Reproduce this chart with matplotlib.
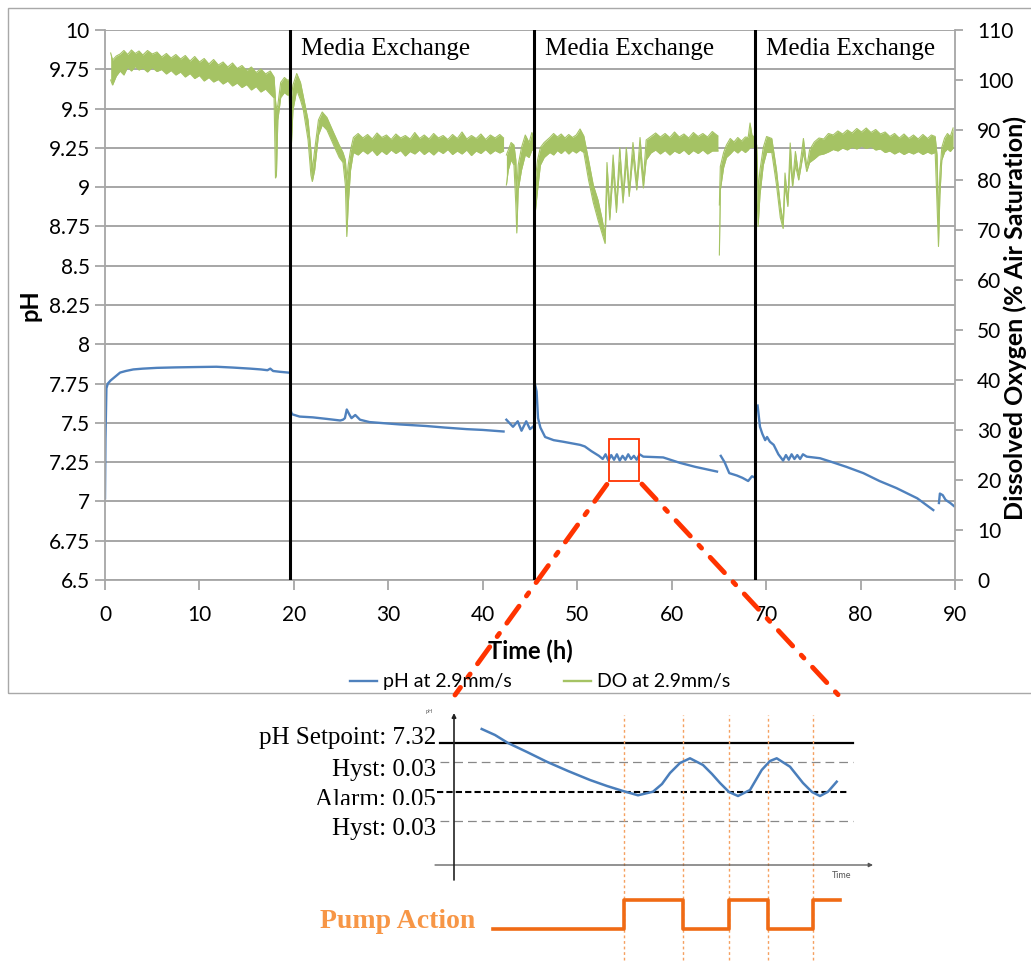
import matplotlib
matplotlib.use("Agg")
import matplotlib.pyplot as plt
from matplotlib.lines import Line2D
from matplotlib.patches import Rectangle, ConnectionPatch
from matplotlib.ticker import FuncFormatter, MultipleLocator

plt.rcParams['font.family'] = ['Lato', 'DejaVu Sans']

# ---- pH trace (left axis), one stretch per logged run ----
ph1_t = [0.0, 0.05, 0.15, 0.3, 0.6, 1.0, 1.6, 2.2, 3.0, 4.0, 5.5, 7.5, 9.5, 11.8,
         13.5, 15.4, 16.5, 17.2, 17.5, 17.8, 18.5, 19.4]
ph1_v = [7.02, 7.40, 7.72, 7.75, 7.77, 7.79, 7.82, 7.83, 7.84, 7.845, 7.85, 7.853,
         7.855, 7.857, 7.852, 7.845, 7.84, 7.835, 7.845, 7.83, 7.825, 7.82]

ph2_t = [19.7, 19.8, 20.6, 22, 23.5, 24.9, 25.2, 25.4, 25.6, 25.9, 26.1, 26.5, 27.0,
         28, 31.2, 34, 36, 38.3, 40, 42.2]
ph2_v = [7.57, 7.555, 7.54, 7.535, 7.525, 7.515, 7.52, 7.53, 7.585, 7.55, 7.53, 7.55,
         7.52, 7.505, 7.49, 7.48, 7.47, 7.46, 7.455, 7.445]

ph3_t = [42.5, 43.2, 43.7, 44.1, 44.6, 45.0, 45.3]
ph3_v = [7.52, 7.475, 7.51, 7.45, 7.51, 7.46, 7.475]

ph4_t = [45.55, 45.7, 45.85, 46.1, 46.6, 47.5, 48.5, 50.3, 50.8, 51.5, 52.3, 52.7,
         53.0, 53.3, 53.6, 53.9, 54.2, 54.5, 54.8, 55.1, 55.4, 55.7, 56.0, 56.3, 56.6,
         57.0, 59.1, 60.9, 62.5, 64.8]
ph4_v = [7.74, 7.70, 7.53, 7.47, 7.41, 7.39, 7.38, 7.36, 7.35, 7.32, 7.29, 7.27,
         7.30, 7.26, 7.295, 7.265, 7.30, 7.26, 7.29, 7.265, 7.30, 7.27, 7.29, 7.265,
         7.30, 7.285, 7.28, 7.245, 7.22, 7.19]

ph5_t = [65.2, 65.6, 66.1, 66.9, 67.5, 68.1, 68.5, 68.7]
ph5_v = [7.29, 7.25, 7.18, 7.165, 7.15, 7.13, 7.16, 7.155]

ph6_t = [69.1, 69.35, 69.6, 69.9, 70.1, 70.4, 70.8, 71.3, 71.8, 72.1, 72.4, 72.7,
         73.0, 73.3, 73.6, 73.9, 74.3, 75.7, 77, 78.5, 80.3, 82, 83.8, 86, 87.7]
ph6_v = [7.61, 7.475, 7.43, 7.39, 7.41, 7.38, 7.36, 7.30, 7.26, 7.295, 7.265, 7.30,
         7.27, 7.295, 7.27, 7.30, 7.285, 7.275, 7.25, 7.22, 7.18, 7.13, 7.085, 7.02,
         6.945]

ph7_t = [88.3, 88.4, 88.7, 89.0, 89.5, 89.9]
ph7_v = [6.99, 7.05, 7.04, 7.01, 6.99, 6.97]

# ---- dissolved oxygen (right axis): upper / lower edge of the noisy band ----
do1_t = [0.6, 0.8, 1.2, 1.6, 2.0, 2.4, 2.8, 3.2, 3.6, 4.0, 4.5, 5.0, 5.5, 6.0, 6.5,
         7.0, 7.5, 8.0, 8.5, 9.0, 9.5, 10.0, 10.5, 11.0, 11.5, 12.0, 12.5, 13.0,
         13.5, 14.0, 14.5, 15.0, 15.5, 16.0, 16.5, 17.0, 17.5, 17.9,
         18.05, 18.15, 18.3, 18.6, 19.0, 19.3, 19.5, 19.7, 19.9, 20.3, 20.7, 21.0,
         21.5, 21.8, 21.95, 22.2, 22.6, 23.0, 23.5, 24.2, 24.8, 25.2, 25.45, 25.6,
         25.75, 26.0,
         26.3, 26.8, 27.3, 27.8, 28.3, 28.8, 29.3, 29.8, 30.3, 30.8, 31.3, 31.8,
         32.3, 32.8, 33.3, 33.8, 34.3, 34.8, 35.3, 35.8, 36.3, 36.8, 37.3, 37.8,
         38.3, 38.8, 39.3, 39.8, 40.3, 40.8, 41.3, 41.8, 42.2]
do1_hi = [105.4, 104, 104.8, 105.2, 105.9, 105.1, 106.0, 105.3, 105.8, 105.0, 105.9,
          105.2, 105.6, 104.6, 105.3, 104.4, 105.1, 104.2, 104.9, 103.8, 104.7, 103.6,
          104.3, 103.2, 104.1, 103.0, 103.6, 102.6, 103.4, 102.3, 102.9, 101.9, 102.6,
          101.5, 102.2, 101.2, 101.8, 100.6,
          96, 94, 95, 99.5, 100.5, 100, 100, 96, 99, 101.3, 99.5, 96.7,
          92, 86, 82, 86, 92, 93.6, 92.5, 89.5, 87, 85.5, 84, 80,
          83, 86,
          88.5, 89.3, 88.4, 89.1, 88.2, 89.4, 88.5, 89.0, 88.1, 89.2, 88.4, 88.9,
          88.2, 89.5, 88.3, 89.0, 88.2, 89.3, 88.4, 88.9, 88.1, 89.1, 88.3, 89.6,
          88.2, 88.9, 88.3, 89.2, 88.1, 89.0, 88.4, 89.1, 88.4]
do1_lo = [100, 99, 100.8, 101.8, 101.0, 102.6, 101.8, 102.7, 102.0, 102.4, 101.6,
          102.5, 101.7, 102.1, 101.2, 101.9, 101.0, 101.6, 100.6, 101.3, 100.3, 100.9,
          99.8, 100.5, 99.6, 100.1, 99.2, 99.8, 98.8, 99.4, 98.5, 99.1, 98.0, 98.7,
          97.6, 98.2, 97.2, 96.4,
          80.4, 81, 92, 96.5, 97.5, 97, 97, 85.5, 94, 98, 96, 94,
          88, 81, 79.7, 82, 89, 91, 90, 87, 84.5, 83.5, 79, 68.7,
          75, 82,
          85.5, 85.0, 85.9, 85.2, 86.0, 84.9, 85.8, 85.1, 86.0, 85.3, 85.9, 84.8,
          85.7, 85.2, 86.0, 85.1, 85.8, 85.0, 85.9, 85.3, 86.1, 85.1, 85.8, 85.2,
          86.0, 84.9, 85.8, 85.3, 86.1, 85.2, 85.9, 85.4, 85.8]

do2_t = [42.5, 42.7, 43.0, 43.3, 43.5, 43.6, 43.75, 44.1, 44.5, 44.9, 45.2, 45.4,
         45.55, 45.8, 46.1, 46.5,
         47.1, 47.5, 47.9, 48.3, 48.7, 49.1, 49.5, 49.9, 50.3, 50.7,
         51.2, 51.7, 52.2, 52.6, 52.95, 53.15, 53.45, 53.8, 54.15, 54.5, 54.85, 55.2,
         55.5, 55.9, 56.3, 56.65, 57.0,
         57.3, 57.8, 58.3, 58.8, 59.3, 59.8, 60.3, 60.8, 61.3, 61.8, 62.3, 62.8,
         63.3, 63.8, 64.3, 64.9]
do2_hi = [85, 86, 87.5, 87, 84, 78, 83, 86.5, 89, 87.5, 89.5, 88.5,
          80, 84, 86.5, 87.5,
          88.5, 89.3, 88.6, 89.2, 88.4, 89.1, 88.5, 89.0, 90.2, 88.8,
          84, 79, 76, 72.5, 69, 83.5, 74, 85, 75, 86.5, 77, 86.5,
          78, 87.5, 79.5, 88.5, 80,
          88, 88.7, 89.4, 88.6, 89.3, 88.5, 89.6, 88.6, 89.2, 88.4, 89.5, 88.7,
          89.3, 88.6, 89.7, 88.8]
do2_lo = [79, 82, 84, 83, 75, 69.4, 78, 82, 85, 84.5, 86, 86,
          73.4, 78, 83, 84.5,
          85.5, 85.0, 85.9, 85.3, 86.0, 85.2, 85.9, 85.4, 86.0, 85.5,
          80, 75.5, 72, 69.5, 67.3, 80, 72, 82, 73.5, 83.5, 75.4, 84,
          76.7, 85, 78, 85.5, 78.4,
          84, 85.4, 86.0, 85.2, 85.9, 85.0, 85.8, 85.3, 86.0, 85.1, 85.9, 85.3,
          86.0, 85.2, 85.8, 85.8]

do3_t = [65.05, 65.15, 65.5, 65.8, 66.2, 66.6, 67.0, 67.4, 67.8, 68.1, 68.3, 68.5,
         68.8, 69.0, 69.15, 69.35, 69.7, 70.05, 70.6, 71.1, 71.5, 71.8, 72.0, 72.3,
         72.55, 72.8, 73.1, 73.45, 73.95, 74.3,
         74.6, 75.1, 75.6, 76.1, 76.6, 77.1, 77.6, 78.1, 78.6, 79.1, 79.6, 80.1,
         80.6, 81.1, 81.6, 82.1, 82.6, 83.1, 83.6, 84.1, 84.6, 85.1, 85.6, 86.1,
         86.6, 87.1, 87.5, 87.9,
         88.1, 88.25, 88.4, 88.6, 88.9, 89.2, 89.5, 89.8]
do3_hi = [75, 82.7, 85.5, 87, 88.3, 87.6, 88.5, 87.8, 88.6, 88.5, 91.4, 89,
          88.5, 87, 78, 82, 86.5, 88.7, 88.3, 82, 75, 71.5, 81.4, 75.5,
          87.4, 79.5, 85.7, 81, 88.3, 82.5,
          86, 87.6, 88.4, 88.2, 89.3, 89.0, 89.8, 89.2, 90.0, 89.4, 90.3, 89.6,
          90.4, 89.5, 90.1, 89.2, 89.6, 88.7, 89.3, 88.4, 89.2, 88.3, 89.0, 88.2,
          89.1, 88.3, 89.0, 88.7,
          85, 72, 81.4, 86.5, 88.4, 89.3, 88.7, 90.4]
do3_lo = [65, 78, 82.5, 84.5, 85.2, 86.0, 85.4, 86.1, 85.5, 86, 86.5, 86.5,
          86.5, 80, 70.7, 77, 83, 85.5, 85.5, 79, 72.5, 70.3, 79, 74.7,
          84, 78.7, 83, 80, 85.5, 81.7,
          83.5, 84.2, 85.0, 85.2, 85.6, 86.1, 85.8, 86.4, 86.0, 86.6, 86.2, 86.8,
          86.3, 86.7, 86.0, 86.2, 85.5, 85.8, 85.2, 85.7, 85.1, 85.6, 85.2, 85.7,
          85.1, 85.6, 85.2, 85.5,
          75, 66.7, 77, 84, 85.6, 86.2, 85.7, 86.4]

exchange_t = [19.6, 45.4, 68.8]
zoom_t = [53.4, 56.55]
zoom_ph = [7.13, 7.40]

# ---- pump control schematic, drawn in its own arbitrary units ----
sch_levels = [218, 199, 169, 140]
sch_labels = ["pH Setpoint: 7.32", "Hyst: 0.03", "Alarm: 0.05", "Hyst: 0.03"]
sch_label_y = [217, 185, 155, 126]
sch_curve_x = [51.7, 65, 78, 97, 116.7, 138, 160, 177, 193, 208, 223, 232, 240, 250,
               260, 273, 282, 290, 299, 308, 320, 331.7, 340, 346.7, 360, 373, 382,
               390, 398, 406.7]
sch_curve_y = [232, 226, 218, 209, 199.3, 190, 181, 175, 170, 165.7, 169.3, 177, 188,
               198, 202.7, 196, 187, 178, 169, 165, 171, 191, 200, 202.7, 194.3, 178,
               169, 165, 169.3, 179.3]
switch_x = [194, 253, 299, 338, 383]
pump_x = [63, 194, 253, 299, 338, 383, 410]
pump_on = [0, 1, 0, 1, 0, 1, 1]
pump_low, pump_high = 32, 61

BLUE = '#4f81bd'
GREEN = '#a5c364'
GRID = '#a6a6a6'
RED = '#ff3300'

W, H = 1031, 961
fig = plt.figure(figsize=(W / 100, H / 100), dpi=100)

# outer chart frame
fig.add_artist(Rectangle((8 / W, 1 - 693 / H), 1.2, 685 / H, transform=fig.transFigure,
                         fill=False, ec='#a8a8a8', lw=1))

ax = fig.add_axes([105 / W, 1 - 580 / H, 850 / W, 550 / H])
ax2 = ax.twinx()

ax.set_xlim(0, 90)
ax.set_ylim(6.5, 10)
ax2.set_ylim(0, 110)
ax.xaxis.set_major_locator(MultipleLocator(10))
ax.yaxis.set_major_locator(MultipleLocator(0.25))
ax2.yaxis.set_major_locator(MultipleLocator(10))
ax.yaxis.set_major_formatter(FuncFormatter(lambda v, p: f"{v:g}"))

ax.yaxis.grid(True, color=GRID, lw=1.4)
ax.set_axisbelow(True)
for a in (ax, ax2):
    a.spines['top'].set_visible(False)
    for s in a.spines.values():
        s.set_color(GRID)
        s.set_linewidth(1.3)
ax.spines['right'].set_visible(False)
ax2.spines['left'].set_visible(False)
ax2.spines['bottom'].set_visible(False)

ax.tick_params(axis='y', direction='out', length=7, width=1.3, color=GRID,
               labelsize=15, pad=4)
ax.tick_params(axis='x', direction='out', length=7, width=1.3, color=GRID,
               labelsize=15, pad=11)
ax2.tick_params(axis='y', direction='out', length=6, width=1.3, color=GRID,
                labelsize=15, pad=10)

for t, v in [(ph1_t, ph1_v), (ph2_t, ph2_v), (ph3_t, ph3_v), (ph4_t, ph4_v),
             (ph5_t, ph5_v), (ph6_t, ph6_v), (ph7_t, ph7_v)]:
    ax.plot(t, v, color=BLUE, lw=1.7)

for t, hi, lo in [(do1_t, do1_hi, do1_lo), (do2_t, do2_hi, do2_lo),
                  (do3_t, do3_hi, do3_lo)]:
    ax2.fill_between(t, lo, hi, color=GREEN, lw=0)
    ax2.plot(t, hi, color=GREEN, lw=0.8)
    ax2.plot(t, lo, color=GREEN, lw=0.8)

for x in exchange_t:
    ax2.axvline(x, color='black', lw=2.2)
    ax2.annotate("Media Exchange", (x, 1), xycoords=('data', 'axes fraction'),
                 xytext=(8, -6), textcoords='offset points', ha='left', va='top',
                 family='Liberation Serif', fontsize=18)

ax.add_patch(Rectangle((zoom_t[0], zoom_ph[0]), zoom_t[1] - zoom_t[0],
                       zoom_ph[1] - zoom_ph[0], fill=False, ec=RED, lw=1.3, zorder=5))

fig.text(30 / W, 1 - 305 / H, "pH", rotation=90, ha='center', va='center',
         fontsize=17, weight='bold')
fig.text(530 / W, 1 - 651 / H, "Time (h)", ha='center', va='center',
         fontsize=17, weight='bold')
fig.text(1015 / W, 1 - 318 / H, "Dissolved Oxygen (% Air Saturation)", rotation=90,
         ha='center', va='center', fontsize=18, weight='bold')

handles = [Line2D([], [], color=BLUE, lw=1.7), Line2D([], [], color=GREEN, lw=1.7)]
fig.legend(handles, ["pH at 2.9mm/s", "DO at 2.9mm/s"], loc='center',
           bbox_to_anchor=(540 / W, 1 - 682 / H), ncol=2, frameon=False, fontsize=14,
           handlelength=1.4, handletextpad=0.3, columnspacing=2.7)

# ---- pump control schematic ----
ins = fig.add_axes([430 / W, 0, 450 / W, 266 / H])
ins.set_xlim(0, 450)
ins.set_ylim(0, 266)
ins.axis('off')

ins.plot([10, 423], [sch_levels[0]] * 2, color='black', lw=1.6)
ins.plot([10, 423], [sch_levels[1]] * 2, color='#888888', lw=0.9, dashes=(7, 4))
ins.plot([7, 417], [sch_levels[2]] * 2, color='black', lw=1.5, dashes=(3, 1.5))
ins.plot([10, 423], [sch_levels[3]] * 2, color='#888888', lw=0.9, dashes=(7, 4))
ins.annotate('', xy=(443, 96), xytext=(5, 96),
             arrowprops=dict(arrowstyle='-|>', color='#555555', lw=0.9,
                             mutation_scale=6, shrinkA=0, shrinkB=0))
ins.annotate('', xy=(24, 248), xytext=(24, 81),
             arrowprops=dict(arrowstyle='-|>', color='#222222', lw=1.2,
                             mutation_scale=6, shrinkA=0, shrinkB=0))
ins.text(412, 85, "Time", fontsize=6.5, color='#555555', ha='center', va='center')
ins.text(3, 249, "pH", fontsize=4, color='#555555', ha='right', va='center')

ins.vlines(switch_x, 1, 246, color='#f5a060', lw=1, linestyles=(0, (2, 2)))
ins.plot(sch_curve_x, sch_curve_y, color='#4a7ebb', lw=1.8)
ins.step(pump_x, [pump_high if s else pump_low for s in pump_on], where='post',
         color='#f06a14', lw=2.6)

for lab, y in zip(sch_labels, sch_label_y):
    txt = ins.text(6, y, lab, ha='right', va='baseline', family='Liberation Serif',
                   fontsize=18, clip_on=False)
    if lab.startswith("Alarm"):
        txt.set_clip_path(Rectangle((-400, 156), 500, 60, transform=ins.transData))
        txt.set_clip_on(True)
ins.text(45, 33, "Pump Action", ha='right', va='baseline', family='Liberation Serif',
         weight='bold', fontsize=20, color='#f79646')

# dash-dot leaders from the zoom window down to the schematic
for xa, xb, yb in [(zoom_t[0], 25, 266), (zoom_t[1], 413, 261)]:
    con = ConnectionPatch(xyA=(xa, zoom_ph[0]), coordsA=ax.transData,
                          xyB=(xb, yb), coordsB=ins.transData, color=RED, lw=3.5,
                          linestyle=(0, (4.3, 2.6, 0.8, 2.6)), shrinkA=3)
    fig.add_artist(con)

fig.savefig("out.png", dpi=100)
